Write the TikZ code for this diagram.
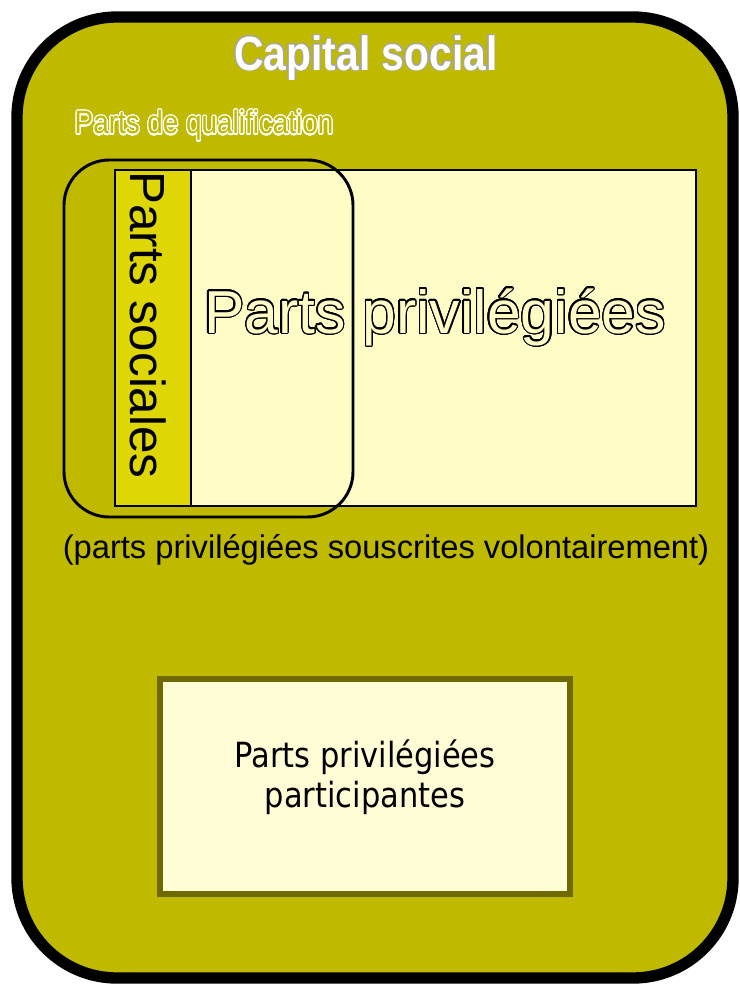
\documentclass[tikz,border=0pt]{standalone}
\usepackage{fontspec}
\usepackage[copies]{contour}
\setmainfont{Liberation Sans}
\newfontfamily\titlefont[FakeStretch=0.85]{Liberation Sans}
\newfontfamily\qualfont[FakeStretch=0.86]{Liberation Sans}
\newfontfamily\boxfont[FakeStretch=0.88]{DejaVu Sans}
\definecolor{capital}{RGB}{191,185,0}
\definecolor{sociales}{RGB}{222,214,5}
\definecolor{privil}{RGB}{255,252,198}
\definecolor{partic}{RGB}{255,253,213}
\definecolor{particborder}{RGB}{110,106,0}
\contournumber{24}

\begin{document}
\begin{tikzpicture}[x=0.75pt, y=-0.75pt,
    titre/.style={font=\titlefont\bfseries\fontsize{36}{40}\selectfont, text=white},
    hollow/.style={font=\qualfont\fontsize{24.3}{28}\selectfont},
    grand/.style={font=\fontsize{45.5}{50}\selectfont},
    vertical/.style={font=\fontsize{37}{42}\selectfont, rotate=-90},
    boite/.style={font=\boxfont\fontsize{26}{30}\selectfont, align=center}]
  \useasboundingbox (0,0) rectangle (739,984);

  % capital social
  \draw[line width=8.5pt, fill=capital, rounded corners=75pt] (17,17) rectangle (733,978);
  \node[titre] (titre) at (366,58) {\contourlength{0.6pt}\contour{gray!70}{Capital social}};
  \node[hollow, anchor=base west] (qualif) at (70,134)
    {\contourlength{0.9pt}\textcolor{capital}{\contour{white}{Parts de qualification}}};

  % parts privilegiees
  \draw[fill=privil, line width=0.8pt] (115,170) rectangle (696,506);
  \draw[fill=sociales, line width=0.8pt] (115,170) rectangle (191,506);
  \node[grand, anchor=base] (privileg) at (435,333)
    {\contourlength{1pt}\textcolor{privil}{\contour{black}{Parts privilégiées}}};
  \node[vertical] (sociales) at (148,325) {Parts sociales};
  \draw[line width=2.2pt, rounded corners=34pt] (64,160) rectangle (353,517);

  \node[font=\fontsize{24.5}{28}\selectfont] (souscrites) at (386,550)
    {(parts privilégiées souscrites volontairement)};

  % parts participantes
  \draw[fill=partic, draw=particborder, line width=3.8pt] (160,679) rectangle (570,894);
  \node[boite] (particip) at (365,777) {Parts privilégiées\\participantes};
\end{tikzpicture}
\end{document}
